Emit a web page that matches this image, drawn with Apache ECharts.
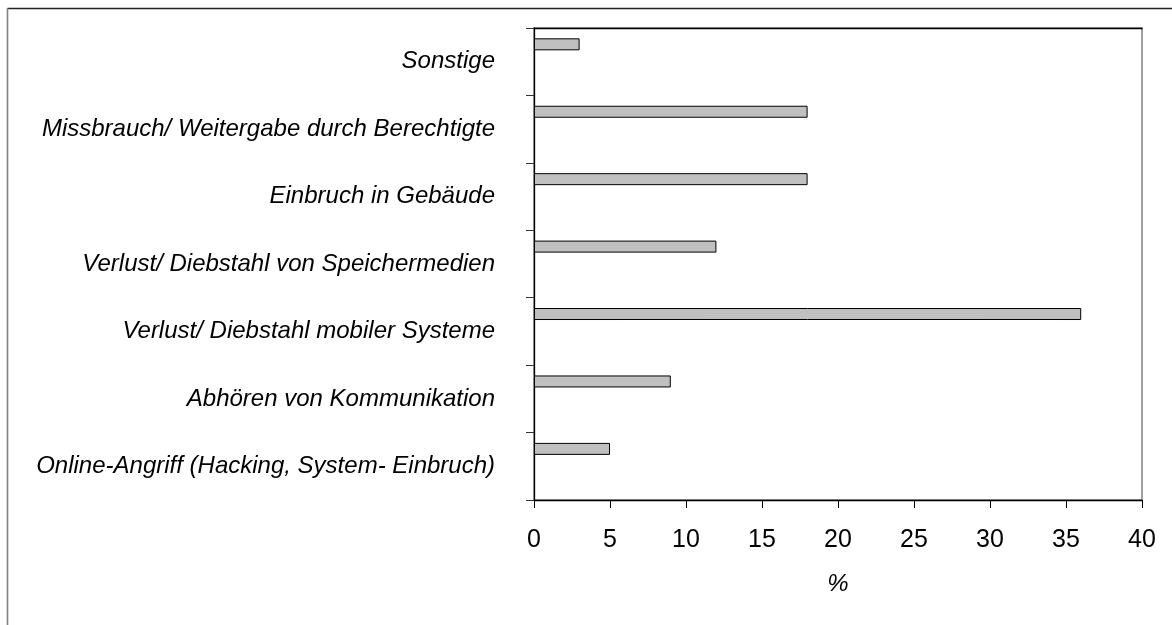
<!DOCTYPE html>
<html>
<head>
<meta charset="utf-8">
<script src="https://cdn.jsdelivr.net/npm/echarts@6/dist/echarts.min.js"></script>
<style>
html, body { margin: 0; padding: 0; background: #fff; }
#chart { width: 1172px; height: 625px; }
</style>
</head>
<body>
<div id="chart"></div>
<script>
// categories, bottom to top as in the picture
var categories = [
	'Online-Angriff (Hacking, System- Einbruch)',
	'Abhören von Kommunikation',
	'Verlust/ Diebstahl mobiler Systeme',
	'Verlust/ Diebstahl von Speichermedien',
	'Einbruch in Gebäude',
	'Missbrauch/ Weitergabe durch Berechtigte',
	'Sonstige'
];
var values = [5, 9, 36, 12, 18, 18, 3];
var emptySlot = ['-', '-', '-', '-', '-', '-', '-'];
var xTicks = { min: 0, max: 40, interval: 5 };

var font = '"Liberation Sans", Arial, sans-serif';

var chart = echarts.init(document.getElementById('chart'));

var option = {
	animation : false,
	backgroundColor : '#fff',
	graphic : [ {
		type : 'line',
		shape : { x1 : 7.5, y1 : 8.5, x2 : 1172, y2 : 8.5 },
		style : { stroke : '#222', lineWidth : 1.6 }
	}, {
		type : 'line',
		shape : { x1 : 7.5, y1 : 8, x2 : 7.5, y2 : 625 },
		style : { stroke : '#808080', lineWidth : 1.6 }
	} ],
	grid : {
		left : 534,
		right : 30,
		top : 28,
		bottom : 125,
		show : true,
		borderColor : '#808080',
		borderWidth : 1.5
	},
	xAxis : [ {
		type : 'value',
		min : xTicks.min,
		max : xTicks.max,
		interval : xTicks.interval,
		name : '%',
		nameLocation : 'middle',
		nameGap : 84,
		nameTextStyle : {
			fontFamily : font,
			fontSize : 24,
			fontStyle : 'italic',
			color : '#000',
			verticalAlign : 'middle'
		},
		axisLine : { show : true, lineStyle : { color : '#000', width : 1.3 } },
		axisTick : { show : true, length : 8, lineStyle : { color : '#000' } },
		splitLine : { show : false },
		axisLabel : {
			fontFamily : font,
			fontSize : 25,
			color : '#000',
			margin : 40,
			verticalAlign : 'middle'
		}
	}, {
		type : 'value',
		position : 'top',
		min : xTicks.min,
		max : xTicks.max,
		axisLine : { show : true, lineStyle : { color : '#000', width : 1.3 } },
		axisTick : { show : false },
		axisLabel : { show : false },
		splitLine : { show : false }
	} ],
	yAxis : {
		type : 'category',
		data : categories,
		axisLine : { show : true, lineStyle : { color : '#000', width : 1.3 } },
		axisTick : { show : true, length : 8, lineStyle : { color : '#333' } },
		axisLabel : {
			fontFamily : font,
			fontSize : 24,
			fontStyle : 'italic',
			color : '#000',
			margin : 39
		}
	},
	series : [ {
		type : 'bar',
		data : values,
		barWidth : 12,
		barGap : '190%',
		itemStyle : { color : '#c0c0c0', borderColor : '#000', borderWidth : 1 }
	}, {
		type : 'bar',
		data : emptySlot,
		barWidth : 12,
		barGap : '190%'
	} ]
};

chart.setOption(option);
</script>
</body>
</html>
